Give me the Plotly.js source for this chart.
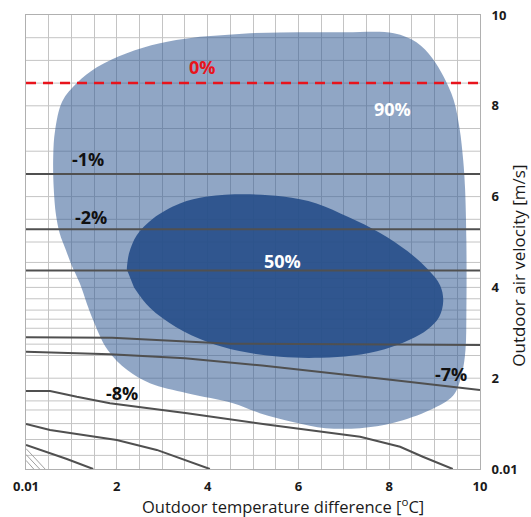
<!DOCTYPE html>
<html>
<head>
<meta charset="utf-8">
<script src="https://cdn.plot.ly/plotly-3.0.1.min.js"></script>
<style>html,body{margin:0;padding:0;background:#fff;}#chart{width:531px;height:517px;}</style>
</head>
<body>
<div id="chart"></div>
<script>
// ---- Data ----
const tickVals = [0, 2, 4, 6, 8, 10];
const tickText = ['0.01', '2', '4', '6', '8', '10'];

// irregular horizontal grid lines of the original chart
const gridY = [0.3, 0.65, 1.0, 1.3, 1.5, 2.0, 2.5, 2.75, 3.1, 3.3, 3.5, 3.75, 4.0, 4.2, 4.55, 5.0, 5.5, 6.0, 6.5, 7.0, 7.5, 8.0, 8.5, 9.0, 9.5];

// 90% region outline
const region90X = [4.93, 6.0, 7.0, 8.1, 8.6, 8.95, 9.2, 9.42, 9.55, 9.63, 9.67, 9.7, 9.7, 9.68, 9.6, 9.41, 8.9, 8.1, 7.36, 6.6, 5.9, 5.15, 4.56, 3.55, 2.73, 2.23, 1.8, 1.45, 1.18, 1.0, 0.88, 0.74, 0.66, 0.61, 0.6, 0.64, 0.8, 1.12, 1.56, 2.22, 2.95, 3.83];
const region90Y = [9.6, 9.62, 9.62, 9.6, 9.4, 9.05, 8.64, 8.13, 7.5, 6.8, 6.2, 5.0, 3.5, 2.62, 2.1, 1.62, 1.3, 1.02, 0.9, 0.9, 1.03, 1.23, 1.45, 1.67, 1.89, 2.18, 2.62, 3.35, 4.1, 4.5, 4.82, 5.2, 5.6, 6.2, 6.9, 7.45, 8.1, 8.5, 8.85, 9.16, 9.38, 9.52];

// 50% region outline
const region50X = [2.22, 2.27, 2.44, 2.8, 3.39, 3.99, 4.8, 5.66, 6.4, 7.1, 7.8, 8.4, 8.85, 9.12, 9.19, 9.1, 8.85, 8.46, 7.9, 7.2, 6.5, 5.6, 4.7, 4.0, 3.3, 2.73, 2.38];
const region50Y = [4.4, 4.75, 5.15, 5.52, 5.85, 6.0, 6.05, 6.0, 5.85, 5.55, 5.2, 4.8, 4.4, 4.05, 3.7, 3.35, 3.08, 2.85, 2.64, 2.5, 2.45, 2.47, 2.6, 2.8, 3.13, 3.55, 4.0];

// iso-lines (contours)
const c1X = [0, 10], c1Y = [6.5, 6.5];
const c2X = [0, 10], c2Y = [5.28, 5.28];
const c3X = [0, 10], c3Y = [4.37, 4.37];
const c4X = [0, 1.9, 4.5, 10], c4Y = [2.9, 2.89, 2.76, 2.73];
const c5X = [0, 1.85, 3.5, 5.2, 8.08, 10], c5Y = [2.58, 2.53, 2.44, 2.28, 1.96, 1.74];
const c6X = [0, 0.53, 1.12, 1.85, 3.55, 5.3, 7.36, 8.24, 8.74, 9.4], c6Y = [1.72, 1.72, 1.59, 1.45, 1.23, 0.98, 0.71, 0.49, 0.27, 0.0];
const c7X = [0, 0.53, 2.0, 2.88, 4.05], c7Y = [0.99, 0.86, 0.64, 0.42, 0.0];
const c8X = [0, 0.53, 0.9, 1.48], c8Y = [0.53, 0.35, 0.22, 0.0];
const h1X = [0, 0.42], h1Y = [0.45, 0.0];
const h2X = [0, 0.3], h2Y = [0.32, 0.0];
const h3X = [0, 0.17], h3Y = [0.19, 0.0];

const zeroLineX = [0, 10], zeroLineY = [8.5, 8.5];

// labels
const labelText = ['0%', '90%', '-1%', '-2%', '50%', '-7%', '-8%'];
const labelX = [3.88, 8.08, 1.37, 1.43, 5.66, 9.36, 2.11];
const labelY = [8.85, 7.93, 6.83, 5.55, 4.58, 2.09, 1.67];
const labelColor = ['#e8141c', '#ffffff', '#111111', '#111111', '#ffffff', '#111111', '#111111'];

const xTitle = 'Outdoor temperature difference [<sup>o</sup>C]';
const yTitle = 'Outdoor air velocity [m/s]';

// ---- Traces ----
const lineStyle = {color: '#505050', width: 2};
const thinStyle = {color: '#a0a0a0', width: 1};
const traces = [
  {x: region90X, y: region90Y, mode: 'lines', fill: 'toself', fillcolor: 'rgba(52,92,150,0.55)', line: {width: 0, color: 'rgba(0,0,0,0)', shape: 'spline', smoothing: 1}, hoverinfo: 'skip'},
  {x: region50X, y: region50Y, mode: 'lines', fill: 'toself', fillcolor: 'rgba(38,78,136,0.9)', line: {width: 0, color: 'rgba(0,0,0,0)', shape: 'spline', smoothing: 1}, hoverinfo: 'skip'},
  {x: c1X, y: c1Y, mode: 'lines', line: lineStyle},
  {x: c2X, y: c2Y, mode: 'lines', line: lineStyle},
  {x: c3X, y: c3Y, mode: 'lines', line: lineStyle},
  {x: c4X, y: c4Y, mode: 'lines', line: lineStyle},
  {x: c5X, y: c5Y, mode: 'lines', line: lineStyle},
  {x: c6X, y: c6Y, mode: 'lines', line: lineStyle},
  {x: c7X, y: c7Y, mode: 'lines', line: lineStyle},
  {x: c8X, y: c8Y, mode: 'lines', line: lineStyle},
  {x: h1X, y: h1Y, mode: 'lines', line: thinStyle},
  {x: h2X, y: h2Y, mode: 'lines', line: thinStyle},
  {x: h3X, y: h3Y, mode: 'lines', line: thinStyle},
  {x: zeroLineX, y: zeroLineY, mode: 'lines', line: {color: '#e8141c', width: 2.5, dash: '10px,7px'}}
];

const shapes = gridY.map(v => ({type: 'line', xref: 'x', yref: 'y', x0: 0, x1: 10, y0: v, y1: v, layer: 'below', line: {color: '#c4c4c4', width: 1}}));

const annotations = labelText.map((t, i) => ({
  x: labelX[i], y: labelY[i], xref: 'x', yref: 'y', text: '<b>' + t + '</b>', showarrow: false,
  font: {family: 'Open Sans, sans-serif', size: 18, color: labelColor[i]}
}));
annotations.push({xref: 'paper', yref: 'paper', x: 0.566, y: -0.081, yanchor: 'middle', xanchor: 'center',
  text: xTitle, showarrow: false, font: {family: 'Open Sans, sans-serif', size: 16.5, color: '#1a1a1a'}});
annotations.push({xref: 'paper', yref: 'paper', x: 1.084, y: 0.448, yanchor: 'middle', xanchor: 'center', textangle: -90,
  text: yTitle, showarrow: false, font: {family: 'Open Sans, sans-serif', size: 17, color: '#1a1a1a'}});

const layout = {
  width: 531, height: 517,
  margin: {l: 26, r: 51, t: 15, b: 48},
  paper_bgcolor: '#ffffff', plot_bgcolor: '#ffffff',
  showlegend: false,
  font: {family: 'Open Sans, sans-serif', color: '#222'},
  xaxis: {
    range: [0, 10], tickmode: 'array', tickvals: tickVals, ticktext: tickText,
    tickfont: {size: 13, weight: 'bold', color: '#1a1a1a'},
    ticks: 'outside', ticklen: 5, tickcolor: 'rgba(0,0,0,0)',
    showgrid: true, gridcolor: '#c4c4c4', gridwidth: 1,
    minor: {dtick: 0.5, tick0: 0, showgrid: true, gridcolor: '#c4c4c4', gridwidth: 1},
    showline: true, linecolor: '#b0b0b0', linewidth: 1, mirror: true,
    zeroline: false, fixedrange: true
  },
  yaxis: {
    range: [0, 10], side: 'right', tickmode: 'array', tickvals: tickVals, ticktext: tickText,
    tickfont: {size: 13, weight: 'bold', color: '#1a1a1a'},
    ticks: 'outside', ticklen: 8, tickcolor: 'rgba(0,0,0,0)',
    showgrid: false,
    showline: true, linecolor: '#b0b0b0', linewidth: 1, mirror: true,
    zeroline: false, fixedrange: true
  },
  shapes: shapes,
  annotations: annotations
};

Plotly.newPlot('chart', traces, layout, {staticPlot: true, displayModeBar: false});
</script>
</body>
</html>
